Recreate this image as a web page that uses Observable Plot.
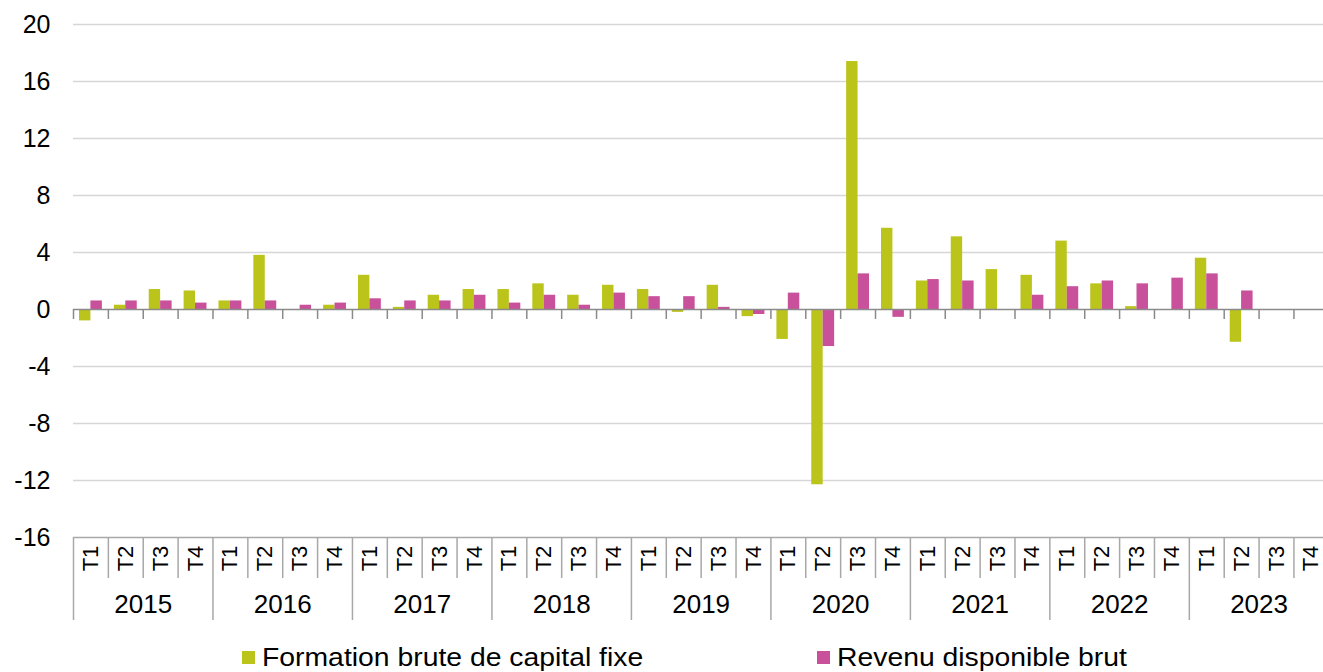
<!DOCTYPE html>
<html><head><meta charset="utf-8">
<script src="https://cdn.jsdelivr.net/npm/d3@7"></script>
<script src="https://cdn.jsdelivr.net/npm/@observablehq/plot@0.6"></script>
<style>
body{margin:0;background:#fff;overflow:hidden;font-family:"Liberation Sans",Arial,sans-serif;}
#wrap{position:relative;width:1323px;height:672px;overflow:hidden;}
#wrap svg{display:block;}
.leg{position:absolute;top:642px;height:30px;display:flex;align-items:center;font-size:26px;color:#000;white-space:nowrap;}
.sw{display:inline-block;width:13px;height:13px;margin-right:7px;}
.lt{display:inline-block;transform:scaleX(1.09);transform-origin:left center;}
</style></head><body><div id="wrap"></div>
<script>
const years = ["2015","2016","2017","2018","2019","2020","2021","2022","2023"];
const quarters = ["T1","T2","T3","T4"];
const fbcf = [
  -0.8, 0.3, 1.4, 1.3,
  0.6, 3.8, 0.0, 0.3,
  2.4, 0.15, 1.0, 1.4,
  1.4, 1.8, 1.0, 1.7,
  1.4, -0.2, 1.7, -0.5,
  -2.1, -12.3, 17.4, 5.7,
  2.0, 5.1, 2.8, 2.4,
  4.8, 1.8, 0.2, 0.0,
  3.6, -2.3, null, null
];
const rdb = [
  0.6, 0.6, 0.6, 0.45,
  0.6, 0.6, 0.3, 0.45,
  0.75, 0.6, 0.6, 1.0,
  0.45, 1.0, 0.3, 1.15,
  0.9, 0.9, 0.15, -0.35,
  1.15, -2.6, 2.5, -0.55,
  2.1, 2.0, 0.0, 1.0,
  1.6, 2.0, 1.8, 2.2,
  2.5, 1.3, null, null
];
const seriesNames = ["Formation brute de capital fixe", "Revenu disponible brut"];
const colors = ["#BBC41A", "#C9509A"];
const yTicks = [-16, -12, -8, -4, 0, 4, 8, 12, 16, 20];

const keys = years.flatMap(y => quarters.map(q => `${y} ${q}`));
const rows = keys.map((k, i) => ({key: k, year: years[Math.floor(i / 4)], q: quarters[i % 4], fbcf: fbcf[i], rdb: rdb[i]}));

const W = 1323, H = 636;
const mLeft = 73, step = 34.87, mTop = 24, frameBottom = 537;

const plot = Plot.plot({
  width: W, height: H,
  marginLeft: mLeft, marginRight: 0, marginTop: mTop, marginBottom: H - frameBottom,
  x: {type: "band", domain: keys, range: [mLeft, mLeft + keys.length * step], padding: 0, axis: null},
  y: {domain: [yTicks[0], yTicks[yTicks.length - 1]], ticks: yTicks, tickSize: 0, tickPadding: 23, label: null, tickFormat: d => String(d)},
  style: {fontFamily: "'Liberation Sans', Arial, sans-serif", fontSize: "25px", color: "#000", background: "#fff", overflow: "hidden"},
  marks: [
    Plot.ruleY(yTicks.filter(d => d !== 0 && d !== yTicks[0]), {stroke: "#d6d6d6", strokeWidth: 1.6}),
    Plot.ruleY([yTicks[0]], {stroke: "#a8a8a8", strokeWidth: 1.5}),
    Plot.barY(rows, {x: "key", y: "fbcf", fill: colors[0], insetLeft: 6, insetRight: step - 17.4}),
    Plot.barY(rows, {x: "key", y: "rdb", fill: colors[1], insetLeft: 17.4, insetRight: 6}),
    Plot.ruleY([0], {stroke: "#8a8a8a", strokeWidth: 1.5}),
    Plot.ruleX(rows, {x: "key", dx: -step / 2, y1: () => 0, y2: () => 0, insetBottom: -10, stroke: "#8a8a8a", strokeWidth: 1.5}),
    Plot.ruleX(rows.filter(d => d.q !== "T1"), {x: "key", dx: -step / 2, y1: () => yTicks[0], y2: () => yTicks[0], insetBottom: -41, stroke: "#a8a8a8", strokeWidth: 1.5}),
    Plot.ruleX(rows.filter(d => d.q === "T1"), {x: "key", dx: -step / 2, y1: () => yTicks[0], y2: () => yTicks[0], insetBottom: -83, stroke: "#a8a8a8", strokeWidth: 1.5}),
    Plot.text(rows, {x: "key", text: "q", frameAnchor: "bottom", dy: 21, rotate: -90, textAnchor: "middle", lineAnchor: "middle", fontSize: 22, fill: "#000"}),
    Plot.text(rows.filter(d => d.q === "T2"), {x: "key", text: "year", frameAnchor: "bottom", dx: step / 2, dy: 67, textAnchor: "middle", lineAnchor: "middle", fontSize: 26, fill: "#000"})
  ]
});

const wrap = document.getElementById("wrap");
wrap.appendChild(plot);
const legX = [242, 817];
seriesNames.forEach((name, i) => {
  const d = document.createElement("div");
  d.className = "leg";
  d.style.left = legX[i] + "px";
  const sw = document.createElement("span");
  sw.className = "sw";
  sw.style.background = colors[i];
  d.appendChild(sw);
  const t = document.createElement("span");
  t.className = "lt";
  t.textContent = name;
  d.appendChild(t);
  wrap.appendChild(d);
});
</script>
</body></html>
